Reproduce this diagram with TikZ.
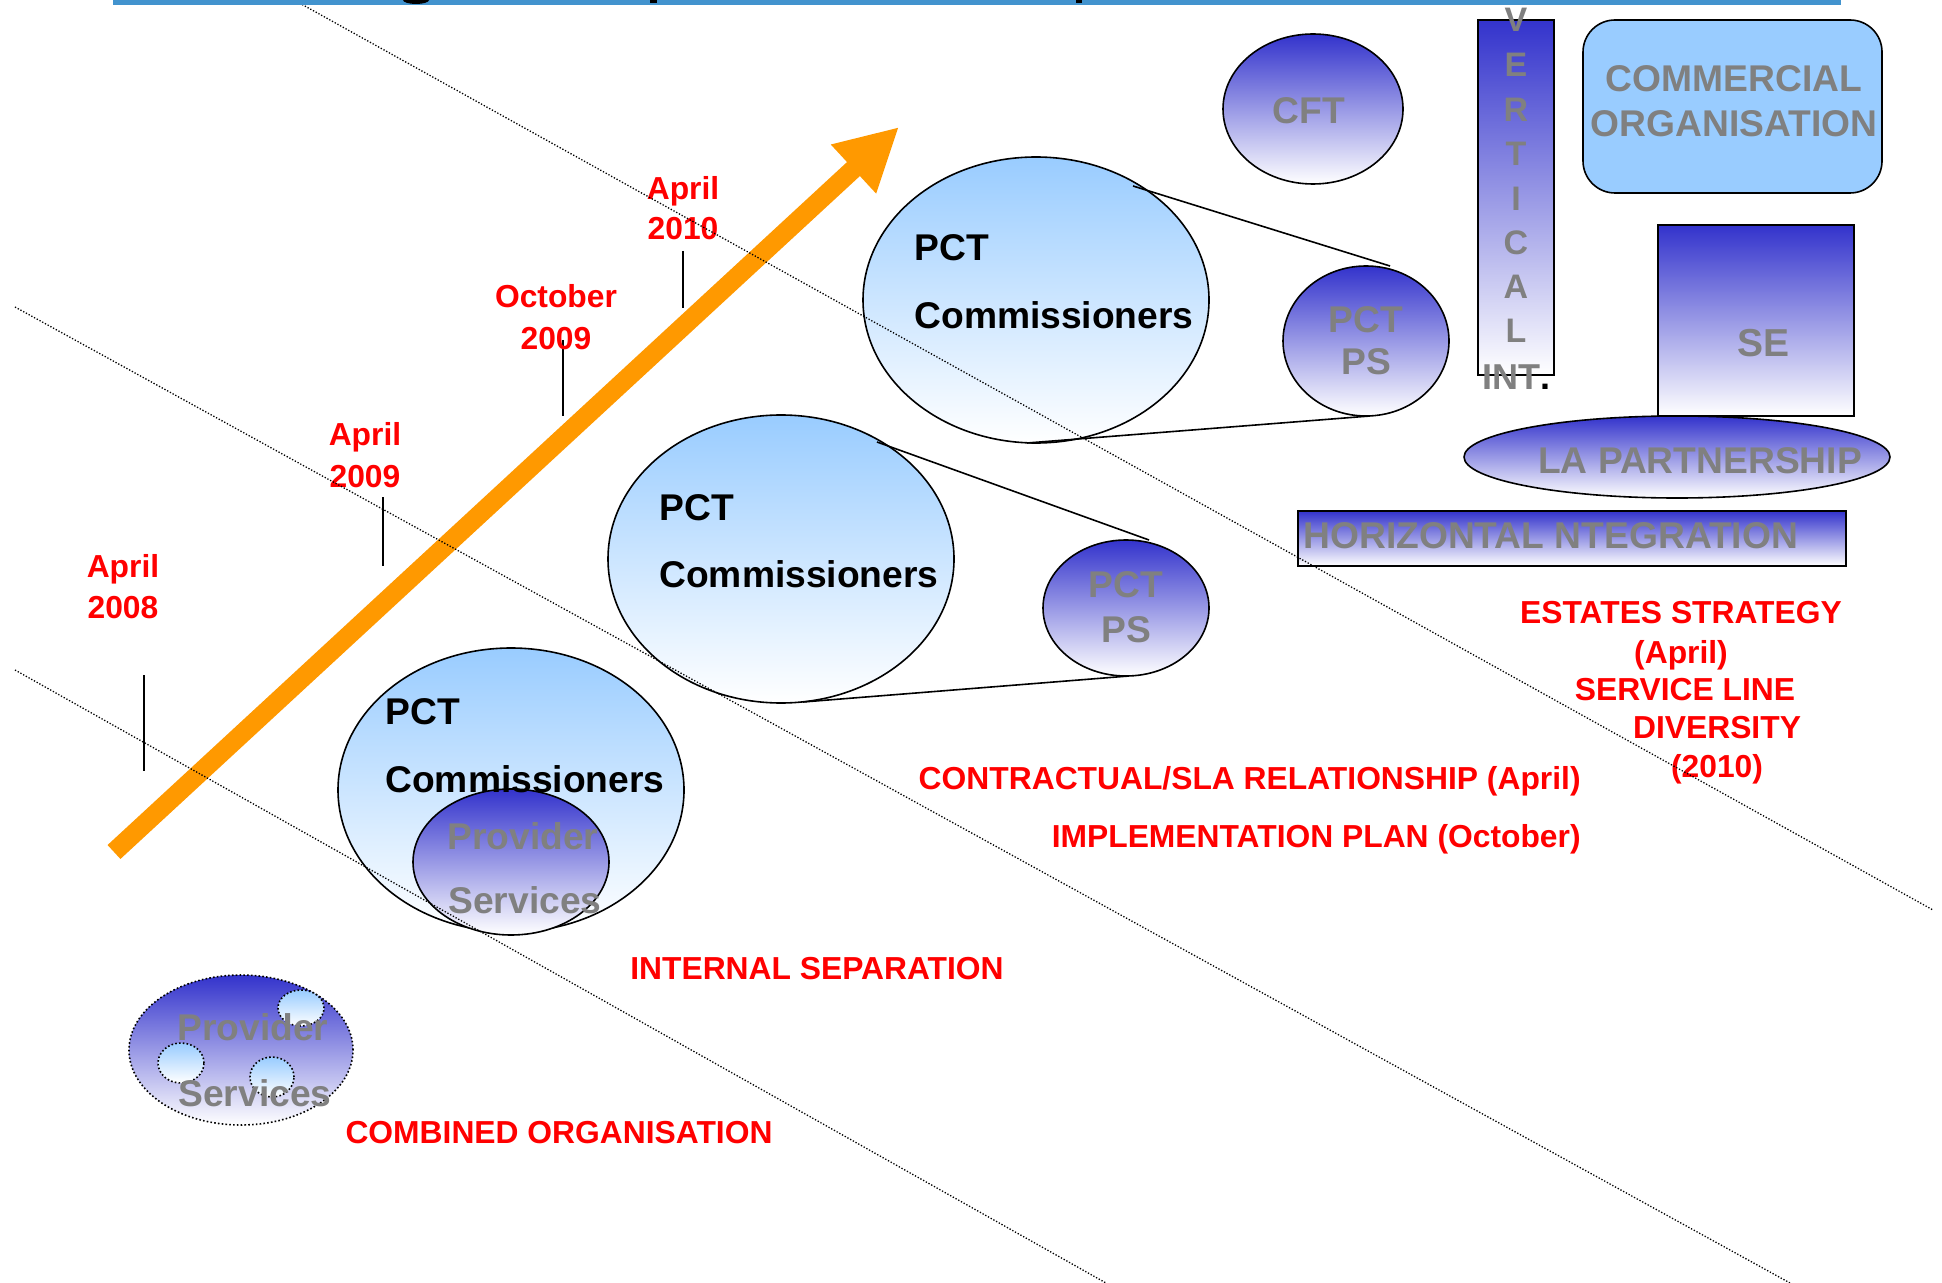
\documentclass[tikz,border=0pt]{standalone}
\usepackage{fontspec}
\setmainfont{Liberation Sans}
\usetikzlibrary{shapes.geometric,arrows.meta}
\definecolor{lblue}{RGB}{153,204,255}
\definecolor{dblue}{RGB}{51,51,204}
\definecolor{tgrey}{RGB}{128,128,128}
\definecolor{tred}{RGB}{255,0,0}
\definecolor{torange}{RGB}{255,153,0}
\definecolor{barblue}{RGB}{66,147,206}
\begin{document}
\begin{tikzpicture}[x=0.5pt,y=-0.5pt,
  outl/.style={draw=black,line width=0.8pt},
  lgrad/.style={outl,top color=lblue,bottom color=white},
  dgrad/.style={outl,top color=dblue,bottom color=white},
  oval/.style={ellipse,inner sep=0pt},
  box/.style={rectangle,inner sep=0pt},
  dotoval/.style={ellipse,inner sep=0pt,draw=black,line width=0.8pt,dash pattern=on 0.8pt off 1.1pt},
  redlbl/.style={text=tred,font=\fontsize{15.9}{19}\selectfont\bfseries,inner sep=0pt},
  greylbl/.style={text=tgrey,font=\fontsize{18.6}{22}\selectfont\bfseries,inner sep=0pt},
  greyletter/.style={text=tgrey,font=\fontsize{17}{20}\selectfont\bfseries,inner sep=0pt},
  blacklbl/.style={text=black,font=\fontsize{18.6}{22}\selectfont\bfseries,inner sep=0pt},
  tickln/.style={draw=black,line width=0.8pt},
  calloutln/.style={draw=black,line width=0.8pt},
  divider/.style={draw=black,line width=0.65pt,dash pattern=on 0.65pt off 0.9pt},
]
\useasboundingbox (0,0) rectangle (1942,1283);
\fill[white] (0,0) rectangle (1942,1283);

% ---- PCT commissioner ellipses and provider circles
\node[oval,lgrad,minimum width=173pt,minimum height=142pt] (e1) at (511,790) {};
\node[oval,dgrad,minimum width=98pt,minimum height=73pt] (ps1) at (511,862) {};
\node[oval,lgrad,minimum width=173pt,minimum height=144pt] (e2) at (781,559) {};
\node[oval,dgrad,minimum width=83pt,minimum height=68pt] (ps2) at (1126,608) {};
\node[oval,lgrad,minimum width=173pt,minimum height=143pt] (e3) at (1036,300) {};
\node[oval,dgrad,minimum width=83pt,minimum height=75pt] (ps3) at (1366,341) {};
\node[oval,dgrad,minimum width=90pt,minimum height=75pt] (cft) at (1313,109) {};

% ---- callout lines
\coordinate (c2a) at (877,442);
\coordinate (c2b) at (1149,540);
\coordinate (c2c) at (803,702);
\coordinate (c2d) at (1129,676);
\coordinate (c3a) at (1133,186);
\coordinate (c3b) at (1390,266);
\coordinate (c3c) at (1027,443);
\coordinate (c3d) at (1370,416);
\draw[calloutln] (c2a) -- (c2b);
\draw[calloutln] (c2c) -- (c2d);
\draw[calloutln] (c3a) -- (c3b);
\draw[calloutln] (c3c) -- (c3d);

% ---- right hand structures
\node[box,dgrad,minimum width=38pt,minimum height=177.5pt] (vert) at (1516,197.5) {};
\node[box,outl,fill=lblue,rounded corners=16pt,minimum width=149.5pt,minimum height=86.5pt] (comm) at (1732.5,106.5) {};
\node[box,dgrad,minimum width=98pt,minimum height=95.5pt] (se) at (1756,320.5) {};
\node[oval,dgrad,minimum width=213pt,minimum height=41pt] (la) at (1677,457) {};
\node[box,dgrad,minimum width=274pt,minimum height=27.5pt] (horiz) at (1572,538.5) {};

% ---- combined organisation
\node[dotoval,top color=dblue,bottom color=white,minimum width=112pt,minimum height=75pt] (comb) at (241,1050) {};
\node[dotoval,top color=lblue,bottom color=white,minimum width=23pt,minimum height=18pt] (sc1) at (301,1008) {};
\node[dotoval,top color=lblue,bottom color=white,minimum width=23pt,minimum height=20pt] (sc2) at (181,1063) {};
\node[dotoval,top color=lblue,bottom color=white,minimum width=22pt,minimum height=20pt] (sc3) at (272,1077) {};

% ---- orange arrow
\coordinate (arS) at (114,852);
\coordinate (arT) at (899,127);
\draw[torange,line width=9.5pt,-{Triangle[length=31pt,width=31pt]}] (arS) -- (arT);

% ---- timeline ticks
\coordinate (k1a) at (144,675); \coordinate (k1b) at (144,771);
\coordinate (k2a) at (383,497); \coordinate (k2b) at (383,566);
\coordinate (k3a) at (563,340); \coordinate (k3b) at (563,416);
\coordinate (k4a) at (683,251); \coordinate (k4b) at (683,308);
\draw[tickln] (k1a) -- (k1b);
\draw[tickln] (k2a) -- (k2b);
\draw[tickln] (k3a) -- (k3b);
\draw[tickln] (k4a) -- (k4b);

% ---- timeline labels
\node[redlbl,anchor=base] (l1a) at (123,577) {April};
\node[redlbl,anchor=base] (l1b) at (123,618) {2008};
\node[redlbl,anchor=base] (l2a) at (365,445) {April};
\node[redlbl,anchor=base] (l2b) at (365,487) {2009};
\node[redlbl,anchor=base] (l3a) at (556,308) {October};
\node[redlbl,anchor=base] (l3b) at (556,350) {2009};
\node[redlbl,anchor=base] (l4a) at (683,200) {April};
\node[redlbl,anchor=base] (l4b) at (683,240) {2010};

% ---- ellipse texts
\node[blacklbl,anchor=west] (t1a) at (385,712) {PCT};
\node[blacklbl,anchor=west] (t1b) at (385,779) {Commissioners};
\node[greylbl] (t1c) at (523,836) {Provider};
\node[greylbl] (t1d) at (525,900) {Services};
\node[blacklbl,anchor=west] (t2a) at (659,508) {PCT};
\node[blacklbl,anchor=west] (t2b) at (659,574) {Commissioners};
\node[greylbl] (t2c) at (1126,585) {PCT};
\node[greylbl] (t2d) at (1126,630) {PS};
\node[blacklbl,anchor=west] (t3a) at (914,248) {PCT};
\node[blacklbl,anchor=west] (t3b) at (914,315) {Commissioners};
\node[greylbl] (t3c) at (1366,320) {PCT};
\node[greylbl] (t3d) at (1366,362) {PS};
\node[greylbl] (tcft) at (1309,111) {CFT};
\node[greylbl] (tc1) at (1734,79) {COMMERCIAL};
\node[greylbl] (tc2) at (1734,124) {ORGANISATION};
\node[greylbl,font=\fontsize{19.5}{22}\selectfont\bfseries] (tse) at (1763,343) {SE};
\node[greylbl] (tla) at (1700,461) {LA PARTNERSHIP};
\node[greylbl,anchor=west] (thz) at (1303,536) {HORIZONTAL NTEGRATION};
\node[greylbl] (tps1) at (253,1027) {Provider};
\node[greylbl] (tps2) at (255,1093) {Services};

% ---- vertical integration letters
\node[greyletter] (v1) at (1516,20) {V};
\node[greyletter] (v2) at (1516,65) {E};
\node[greyletter] (v3) at (1516,110) {R};
\node[greyletter] (v4) at (1516,154) {T};
\node[greyletter] (v5) at (1516,199) {I};
\node[greyletter] (v6) at (1516,243) {C};
\node[greyletter] (v7) at (1516,287) {A};
\node[greyletter] (v8) at (1516,331) {L};
\node[greyletter,font=\fontsize{18}{20}\selectfont\bfseries] (v9) at (1516,377) {INT\textcolor{black}{.}};

% ---- red stage labels
\node[redlbl] (r1) at (559,1133) {COMBINED ORGANISATION};
\node[redlbl] (r2) at (817,969) {INTERNAL SEPARATION};
\node[redlbl,anchor=base east] (r3) at (1581,789) {CONTRACTUAL/SLA RELATIONSHIP (April)};
\node[redlbl,anchor=base east] (r4) at (1581,847) {IMPLEMENTATION PLAN (October)};
\node[redlbl,anchor=base] (r5) at (1681,623) {ESTATES STRATEGY};
\node[redlbl,anchor=base] (r6) at (1681,663) {(April)};
\node[redlbl,anchor=base] (r7) at (1685,700) {SERVICE LINE};
\node[redlbl,anchor=base] (r8) at (1717,738) {DIVERSITY};
\node[redlbl,anchor=base] (r9) at (1717,777) {(2010)};

% ---- dotted dividers
\coordinate (d1a) at (294,0);   \coordinate (d1b) at (1933,910);
\coordinate (d2a) at (15,307);  \coordinate (d2b) at (1790,1283);
\coordinate (d3a) at (15,670);  \coordinate (d3b) at (1106,1283);
\draw[divider] (d1a) -- (d1b);
\draw[divider] (d2a) -- (d2b);
\draw[divider] (d3a) -- (d3b);

% ---- title bar remnant
\fill[barblue] (113,0) rectangle (1841,5);
\fill[black] (416,0) ellipse [x radius=6.5pt, y radius=2pt];
\fill[black] (650,0) rectangle (657,3);
\fill[black] (1076,0) rectangle (1082,3);
\end{tikzpicture}
\end{document}
